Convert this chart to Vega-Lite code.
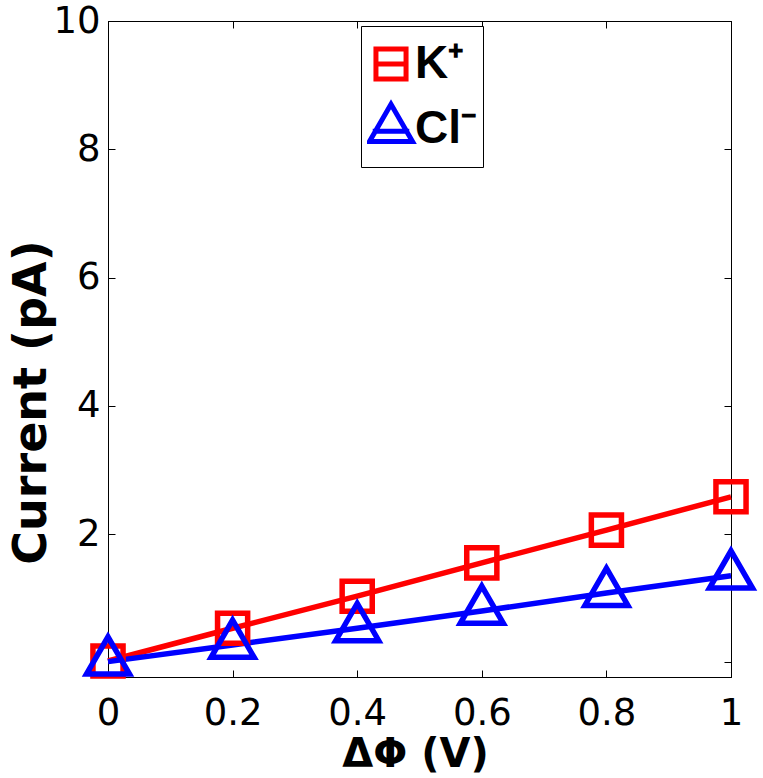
{
  "$schema": "https://vega.github.io/schema/vega-lite/v6.json",
  "width": 623,
  "height": 656,
  "autosize": {"type": "none"},
  "padding": {"left": 108, "top": 21, "right": 32, "bottom": 101},
  "background": "white",
  "config": {
    "view": {"stroke": "black", "strokeWidth": 1},
    "axis": {
      "grid": false,
      "domainColor": "black",
      "tickColor": "black",
      "tickSize": -7,
      "labelFont": "DejaVu Sans",
      "labelFontSize": 37,
      "labelColor": "black",
      "labelFlush": false,
      "titleFont": "DejaVu Sans",
      "titleFontWeight": "bold",
      "titleColor": "black"
    }
  },
  "data": {
    "values": [
      {"dphi": 0.0, "current": 0.02, "ion": "K⁺"},
      {"dphi": 0.2, "current": 0.53, "ion": "K⁺"},
      {"dphi": 0.4, "current": 1.03, "ion": "K⁺"},
      {"dphi": 0.6, "current": 1.55, "ion": "K⁺"},
      {"dphi": 0.8, "current": 2.06, "ion": "K⁺"},
      {"dphi": 1.0, "current": 2.58, "ion": "K⁺"},
      {"dphi": 0.0, "current": 0.01, "ion": "Cl⁻"},
      {"dphi": 0.2, "current": 0.27, "ion": "Cl⁻"},
      {"dphi": 0.4, "current": 0.53, "ion": "Cl⁻"},
      {"dphi": 0.6, "current": 0.8, "ion": "Cl⁻"},
      {"dphi": 0.8, "current": 1.08, "ion": "Cl⁻"},
      {"dphi": 1.0, "current": 1.35, "ion": "Cl⁻"}
    ]
  },
  "layer": [
    {
      "mark": {"type": "line", "strokeWidth": 5.5},
      "encoding": {
        "x": {
          "field": "dphi",
          "type": "quantitative",
          "scale": {"domain": [0, 1], "nice": false},
          "axis": {
            "orient": "bottom",
            "values": [0, 0.2, 0.4, 0.6, 0.8, 1],
            "format": "~g",
            "labelPadding": 25,
            "title": "ΔΦ (V)",
            "titleFontSize": 40,
            "titleX": 307,
            "titleY": 89,
            "titleBaseline": "alphabetic"
          }
        },
        "y": {
          "field": "current",
          "type": "quantitative",
          "scale": {"domain": [-0.23, 10], "nice": false, "zero": false},
          "axis": {
            "orient": "left",
            "values": [0, 2, 4, 6, 8, 10],
            "labelExpr": "datum.value == 0 ? '' : datum.label",
            "labelPadding": 15,
            "title": "Current (pA)",
            "titleFontSize": 46,
            "titleAngle": -90,
            "titleX": -63,
            "titleY": 381,
            "titleAlign": "center",
            "titleBaseline": "alphabetic"
          }
        },
        "color": {
          "field": "ion",
          "type": "nominal",
          "scale": {"domain": ["K⁺", "Cl⁻"], "range": ["#ff0000", "#0000ff"]},
          "legend": {
            "orient": "none",
            "legendX": 253,
            "legendY": 5,
            "title": null,
            "strokeColor": "black",
            "fillColor": "white",
            "padding": 6,
            "clipHeight": 64,
            "symbolSize": 1849,
            "symbolStrokeWidth": 5,
            "symbolFillColor": "transparent",
            "labelFont": "Liberation Sans",
            "labelFontWeight": "bold",
            "labelFontSize": 46,
            "labelColor": "black",
            "labelOffset": 0,
            "rowPadding": 1
          }
        }
      }
    },
    {
      "transform": [{"filter": "datum.ion == 'K⁺'"}],
      "mark": {"type": "point", "filled": false, "strokeWidth": 5.5, "size": 1849, "opacity": 1, "color": "#ff0000", "shape": "M-0.7,-0.7H0.7V0.7H-0.7Z"},
      "encoding": {
        "x": {"field": "dphi", "type": "quantitative", "axis": {"orient": "top", "values": [0, 0.2, 0.4, 0.6, 0.8, 1], "labels": false, "title": null}},
        "y": {"field": "current", "type": "quantitative", "axis": {"orient": "right", "values": [0, 2, 4, 6, 8, 10], "labels": false, "title": null}}
      }
    },
    {
      "transform": [{"filter": "datum.ion == 'Cl⁻'"}],
      "mark": {"type": "point", "filled": false, "strokeWidth": 5.5, "size": 1849, "opacity": 1, "color": "#0000ff", "shape": "M0,-1.155L1,0.577L-1,0.577Z"},
      "encoding": {
        "x": {"field": "dphi", "type": "quantitative", "axis": null},
        "y": {"field": "current", "type": "quantitative", "axis": null}
      }
    },
    {
      "transform": [{"filter": "false"}],
      "mark": {"type": "point", "filled": false, "strokeWidth": 5, "size": 1849, "opacity": 1},
      "encoding": {
        "color": {"field": "ion", "type": "nominal"},
        "shape": {
          "field": "ion",
          "type": "nominal",
          "scale": {"domain": ["K⁺", "Cl⁻"], "range": ["M-0.7,-0.7H0.7V0.7H-0.7ZM-0.7,0H0.7", "M0,-1.155L1,0.577L-1,0.577ZM-0.85,0.1H0.85"]},
          "legend": null
        }
      }
    }
  ],
  "resolve": {"axis": {"x": "independent", "y": "independent"}}
}
